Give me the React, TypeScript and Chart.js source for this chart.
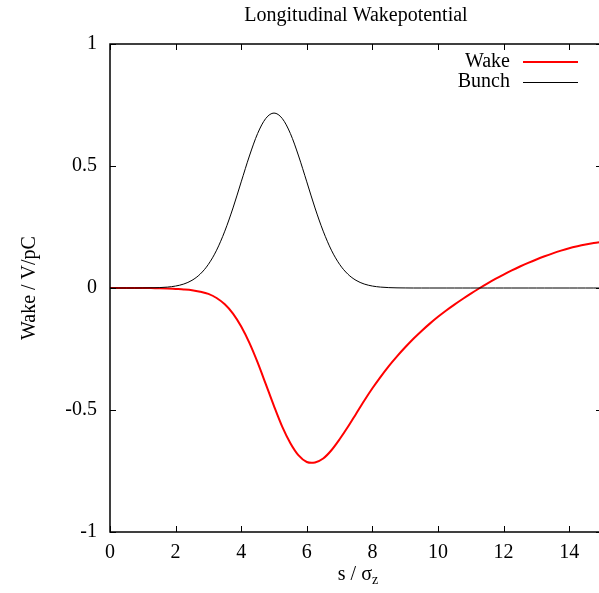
import React, { useEffect, useRef } from "react";
import { Chart, registerables } from "chart.js";

Chart.register(...registerables);

// ---- Data ----
const S_VALUES = [
  0, 0.25, 0.5, 0.75, 1, 1.25, 1.5, 1.75, 2, 2.25, 2.5, 2.75,
  3, 3.25, 3.5, 3.75, 4, 4.25, 4.5, 4.75, 5, 5.25, 5.5, 5.75,
  6, 6.25, 6.5, 6.75, 7, 7.25, 7.5, 7.75, 8, 8.25, 8.5, 8.75,
  9, 9.25, 9.5, 9.75, 10, 10.25, 10.5, 10.75, 11, 11.25, 11.5, 11.75,
  12, 12.25, 12.5, 12.75, 13, 13.25, 13.5, 13.75, 14, 14.25, 14.5, 14.75, 15,
];

const WAKE_VALUES = [
  0, 0, 0, 0, 0, -0.0005, -0.001, -0.002, -0.004, -0.006, -0.009, -0.015,
  -0.024, -0.041, -0.067, -0.105, -0.158, -0.225, -0.305, -0.394, -0.484, -0.568, -0.636, -0.686,
  -0.713, -0.715, -0.699, -0.665, -0.62, -0.57, -0.516, -0.462, -0.411, -0.364, -0.32, -0.28,
  -0.243, -0.208, -0.176, -0.146, -0.118, -0.092, -0.068, -0.045, -0.023, -0.002, 0.018, 0.037,
  0.055, 0.072, 0.088, 0.103, 0.117, 0.13, 0.142, 0.153, 0.163, 0.171, 0.178, 0.184, 0.189,
];

const BUNCH_VALUES = [
  0, 0, 0, 0, 0.0002, 0.0006, 0.0016, 0.0037, 0.008, 0.0163, 0.0315, 0.057,
  0.097, 0.155, 0.233, 0.328, 0.435, 0.541, 0.633, 0.695, 0.717, 0.695, 0.633, 0.541,
  0.435, 0.328, 0.233, 0.155, 0.097, 0.057, 0.0315, 0.0163, 0.008, 0.0037, 0.0016, 0.0006,
  0.0002, 0, 0, 0, 0, 0, 0, 0, 0, 0, 0, 0,
  0, 0, 0, 0, 0, 0, 0, 0, 0, 0, 0, 0, 0,
];

const SERIES_LABELS = ["Wake", "Bunch"];
const SERIES_COLORS = ["#ff0000", "#000000"];
const X_TICKS = [0, 2, 4, 6, 8, 10, 12, 14];
const Y_TICKS = [-1, -0.5, 0, 0.5, 1];
const Y_TICK_LABELS = ["-1", "-0.5", "0", "0.5", "1"];
const X_MIN = 0;
const X_MAX = 15;
const Y_MIN = -1;
const Y_MAX = 1;
const TITLE = "Longitudinal Wakepotential";
const X_TITLE_MAIN = "s / σ";
const X_TITLE_SUB = "z";
const Y_TITLE = "Wake / V/pC";

const FONT = "'Liberation Serif', 'Times New Roman', Times, serif";
const FONT_SIZE = 20;

const framePlugin = {
  id: "gnuplotFrame",
  afterDatasetsDraw(chart: any) {
    const { ctx, chartArea, scales } = chart;
    const { left, right, top, bottom } = chartArea;
    ctx.save();
    ctx.strokeStyle = "#000";
    ctx.lineWidth = 1;
    const tl = 6;
    ctx.beginPath();
    for (const v of X_TICKS) {
      const px = Math.round(scales.x.getPixelForValue(v)) + 0.5;
      ctx.moveTo(px, bottom);
      ctx.lineTo(px, bottom - tl);
      ctx.moveTo(px, top);
      ctx.lineTo(px, top + tl);
    }
    for (const v of Y_TICKS) {
      const py = Math.round(scales.y.getPixelForValue(v)) + 0.5;
      ctx.moveTo(left, py);
      ctx.lineTo(left + tl, py);
      ctx.moveTo(right, py);
      ctx.lineTo(right - tl, py);
    }
    ctx.stroke();
    ctx.lineWidth = 1.5;
    ctx.strokeRect(left, top, right - left, bottom - top);
    ctx.restore();
  },
};

const legendPlugin = {
  id: "gnuplotLegend",
  afterDraw(chart: any) {
    const { ctx, chartArea } = chart;
    ctx.save();
    ctx.font = `${FONT_SIZE}px ${FONT}`;
    ctx.textAlign = "right";
    ctx.textBaseline = "middle";
    ctx.fillStyle = "#000";
    chart.data.datasets.forEach((ds: any, i: number) => {
      const y = chartArea.top + 18 + i * 19.5;
      ctx.fillText(ds.label, chartArea.right - 92, y);
      ctx.strokeStyle = ds.borderColor;
      ctx.lineWidth = ds.borderWidth;
      ctx.beginPath();
      ctx.moveTo(chartArea.right - 79, Math.round(y) + (ds.borderWidth % 2 ? 0.5 : 0));
      ctx.lineTo(chartArea.right - 24, Math.round(y) + (ds.borderWidth % 2 ? 0.5 : 0));
      ctx.stroke();
    });
    ctx.restore();
  },
};

const xTitlePlugin = {
  id: "xTitle",
  afterDraw(chart: any) {
    const { ctx, chartArea } = chart;
    ctx.save();
    ctx.fillStyle = "#000";
    ctx.textBaseline = "alphabetic";
    ctx.textAlign = "left";
    const mainFont = `${FONT_SIZE}px ${FONT}`;
    const subFont = `${Math.round(FONT_SIZE * 0.72)}px ${FONT}`;
    ctx.font = mainFont;
    const w1 = ctx.measureText(X_TITLE_MAIN).width;
    ctx.font = subFont;
    const w2 = ctx.measureText(X_TITLE_SUB).width;
    const cx = (chartArea.left + chartArea.right) / 2 + 2;
    const x0 = cx - (w1 + w2) / 2;
    const baseY = chartArea.bottom + 48;
    ctx.font = mainFont;
    ctx.fillText(X_TITLE_MAIN, x0, baseY);
    ctx.font = subFont;
    ctx.fillText(X_TITLE_SUB, x0 + w1, baseY + 4);
    ctx.restore();
  },
};

export default function App() {
  const canvasRef = useRef<HTMLCanvasElement | null>(null);

  useEffect(() => {
    const canvas = canvasRef.current;
    if (!canvas) return;
    const makeData = (vals: number[]) => S_VALUES.map((s, i) => ({ x: s, y: vals[i] }));
    const chart = new Chart(canvas, {
      type: "line",
      data: {
        datasets: [
          {
            label: SERIES_LABELS[0],
            data: makeData(WAKE_VALUES),
            borderColor: SERIES_COLORS[0],
            borderWidth: 2,
            pointRadius: 0,
            fill: false,
            tension: 0.3,
            order: 1,
          },
          {
            label: SERIES_LABELS[1],
            data: makeData(BUNCH_VALUES),
            borderColor: SERIES_COLORS[1],
            borderWidth: 1,
            pointRadius: 0,
            fill: false,
            cubicInterpolationMode: "monotone",
            order: 0,
          },
        ],
      },
      options: {
        responsive: false,
        animation: false,
        devicePixelRatio: 1,
        layout: { padding: { left: 0, right: 18, top: 0, bottom: 0 } },
        plugins: {
          legend: { display: false },
          tooltip: { enabled: false },
          title: {
            display: true,
            text: TITLE,
            fullSize: false,
            color: "#000",
            font: { family: FONT, size: FONT_SIZE, weight: "normal", lineHeight: 1.2 },
            padding: { top: 4, bottom: 16 },
          },
        },
        scales: {
          x: {
            type: "linear",
            min: X_MIN,
            max: X_MAX,
            grid: { display: false, drawTicks: false },
            border: { display: false },
            afterBuildTicks: (sc: any) => {
              sc.ticks = X_TICKS.map((v) => ({ value: v }));
            },
            afterFit: (sc: any) => {
              sc.height = 61;
            },
            ticks: {
              color: "#000",
              font: { family: FONT, size: FONT_SIZE },
              padding: 9,
              maxRotation: 0,
              autoSkip: false,
              callback: (v: any) => String(v),
            },
          },
          y: {
            type: "linear",
            min: Y_MIN,
            max: Y_MAX,
            grid: { display: false, drawTicks: false },
            border: { display: false },
            afterBuildTicks: (sc: any) => {
              sc.ticks = Y_TICKS.map((v) => ({ value: v }));
            },
            afterFit: (sc: any) => {
              sc.width = 110;
            },
            ticks: {
              color: "#000",
              font: { family: FONT, size: FONT_SIZE },
              padding: 13,
              autoSkip: false,
              callback: (v: any) => {
                const i = Y_TICKS.indexOf(Number(v));
                return i >= 0 ? Y_TICK_LABELS[i] : "";
              },
            },
            title: {
              display: true,
              text: Y_TITLE,
              color: "#000",
              font: { family: FONT, size: FONT_SIZE },
              padding: { top: 18, bottom: 0 },
            },
          },
        },
      },
      plugins: [framePlugin, legendPlugin, xTitlePlugin],
    } as any);
    return () => chart.destroy();
  }, []);

  return (
    <div
      style={{
        position: "fixed",
        left: 0,
        top: 0,
        width: 599,
        height: 593,
        overflow: "hidden",
        background: "#fff",
      }}
    >
      <canvas ref={canvasRef} width={620} height={593} style={{ display: "block" }} />
    </div>
  );
}
